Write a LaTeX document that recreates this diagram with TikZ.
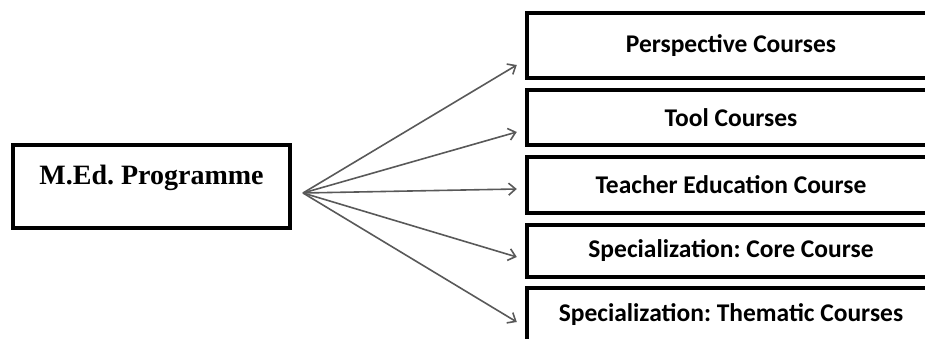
\documentclass[tikz,border=0pt]{standalone}
\usepackage{fontspec}
\setmainfont{Liberation Serif}
\newfontfamily\coursefont{Carlito}
\frenchspacing
\usetikzlibrary{arrows.meta}
\tikzset{
  progbox/.style={draw, line width=3.5pt, minimum width=277pt, minimum height=83pt,
    font=\bfseries\fontsize{28}{32}\selectfont, text height=20pt, text depth=25pt},
  coursebox/.style={minimum width=408pt, inner sep=0pt,
    font=\coursefont\bfseries\fontsize{25.5}{30}\selectfont},
  boxline/.style={line width=3.5pt},
  branch/.style={draw=black!65, line width=1.6pt, -{Straight Barb[length=7pt,width=12pt,line width=1.6pt]}}
}
\begin{document}
\begin{tikzpicture}[x=1pt,y=-1pt]
    \useasboundingbox (0,0) rectangle (925,339);
    \node[progbox] (MEd) at (151.5,186.5) {M.Ed. Programme};
    \node[coursebox, minimum height=65pt] (persp) at (731,45.5) {Perspective Courses};
    \node[coursebox, minimum height=55pt] (tool) at (731,117.5) {Tool Courses};
    \node[coursebox, minimum height=56pt] (teacher) at (731,185) {Teacher Education Course};
    \node[coursebox, minimum height=52pt] (core) at (731,251) {Specialization: Core Course};
    \node[coursebox, minimum height=54pt] (thematic) at (731,315) {Specialization: Thematic Courses};
    % boxes run off the right edge
    \foreach \c in {persp,tool,teacher,core,thematic}
        \draw[boxline] ([xshift=20pt]\c.north east) -- (\c.north west)
            -- (\c.south west) -- ([xshift=20pt]\c.south east);
    \coordinate (fork) at (303,193);
    \draw[branch] (fork) -- ([xshift=-10pt,yshift=-19.5pt]persp.west);
    \draw[branch] (fork) -- ([xshift=-10pt,yshift=-14.5pt]tool.west);
    \draw[branch] (fork) -- ([xshift=-10pt,yshift=-4pt]teacher.west);
    \draw[branch] (fork) -- ([xshift=-10pt,yshift=-6pt]core.west);
    \draw[branch] (fork) -- ([xshift=-10pt,yshift=-7pt]thematic.west);
\end{tikzpicture}
\end{document}
